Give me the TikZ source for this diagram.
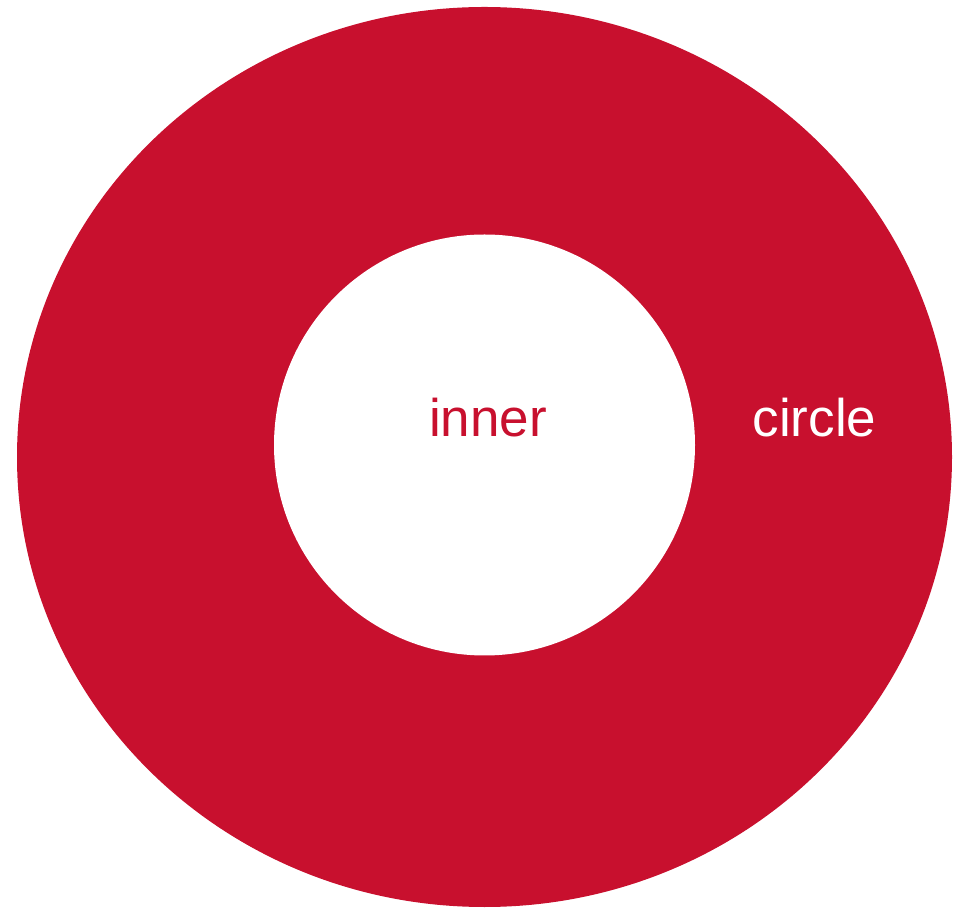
\documentclass[tikz,border=0pt]{standalone}
\usepackage{fontspec}
\setmainfont{Liberation Sans}
\definecolor{crimson}{HTML}{C8102E}
\begin{document}
\begin{tikzpicture}[x=1pt,y=1pt,
  lbl/.style={font=\fontsize{53}{60}\selectfont, anchor=base, inner sep=0pt}]
\useasboundingbox (0,0) rectangle (961,908);
\fill[crimson] (484.5,451) ellipse [x radius=467.5, y radius=450];
\fill[white] (484.5,463) circle [radius=210.5];
\node[lbl, text=crimson] (inner) at (488,471) {inner};
\node[lbl, text=white] (circ) at (814.5,471) {circle};
\end{tikzpicture}
\end{document}
